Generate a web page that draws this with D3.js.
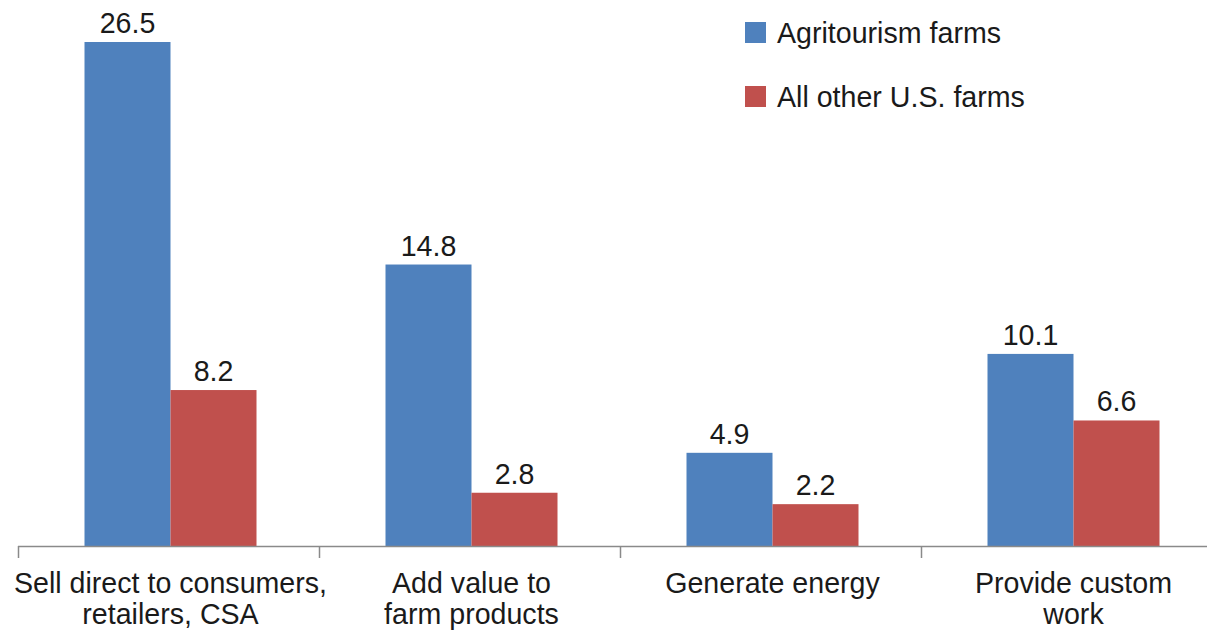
<!DOCTYPE html>
<html>
<head>
<meta charset="utf-8">
<script src="https://cdn.jsdelivr.net/npm/d3@7"></script>
<style>
  html, body { margin: 0; padding: 0; background: #fff; }
  svg { display: block; font-family: "Liberation Sans", Arial, Helvetica, sans-serif; }
</style>
</head>
<body>
<svg id="chart" width="1207" height="631"></svg>
<script>
// Share of farms using each marketing / diversification strategy (percent)
const categories = [
  ["Sell direct to consumers,", "retailers, CSA"],
  ["Add value to", "farm products"],
  ["Generate energy"],
  ["Provide custom", "work"]
];
const seriesNames = ["Agritourism farms", "All other U.S. farms"];
const agritourism = [26.5, 14.8, 4.9, 10.1];
const otherFarms = [8.2, 2.8, 2.2, 6.6];
const colors = ["#4F81BD", "#C0504D"];

const svg = d3.select("#chart");
const baseY = 546;
const fontSize = 28.6;

const keys = categories.map((c, i) => "c" + i);
const x = d3.scaleBand().domain(keys).range([20, 1224]).paddingInner(0).paddingOuter(0);
const y = d3.scaleLinear().domain([0, 26.5]).range([baseY, 42]);
const barW = 86;
const xSub = d3.scaleBand().domain([0, 1]).range([0, barW * 2]);

const rows = keys.map((k, i) => ({ key: k, values: [agritourism[i], otherFarms[i]] }));

const groups = svg.append("g").selectAll("g")
  .data(rows).enter().append("g")
  .attr("transform", d => `translate(${x(d.key) + x.bandwidth() / 2 - barW},0)`);

groups.selectAll("rect")
  .data(d => d.values.map((v, s) => ({ v, s })))
  .enter().append("rect")
  .attr("x", d => xSub(d.s))
  .attr("width", xSub.bandwidth())
  .attr("y", d => y(d.v))
  .attr("height", d => baseY - y(d.v))
  .attr("fill", d => colors[d.s]);

groups.selectAll("text.val")
  .data(d => d.values.map((v, s) => ({ v, s })))
  .enter().append("text")
  .attr("class", "val")
  .attr("x", d => xSub(d.s) + xSub.bandwidth() / 2)
  .attr("y", d => y(d.v) - 9)
  .attr("text-anchor", "middle")
  .attr("font-size", fontSize)
  .attr("fill", "#1a1a1a")
  .text(d => d.v.toFixed(1));

// Category axis with ticks at band boundaries
const axisG = svg.append("g");
axisG.append("line")
  .attr("x1", 18).attr("x2", 1207)
  .attr("y1", baseY + 0.5).attr("y2", baseY + 0.5)
  .attr("stroke", "#8a8a8a").attr("stroke-width", 1.5);
const tickPos = keys.map(k => x(k)).concat([x(keys[keys.length - 1]) + x.bandwidth()]);
axisG.selectAll("line.tick").data(tickPos).enter().append("line")
  .attr("class", "tick")
  .attr("x1", d => d - 1.5).attr("x2", d => d - 1.5)
  .attr("y1", baseY).attr("y2", baseY + 12)
  .attr("stroke", "#8a8a8a").attr("stroke-width", 1.5);

const labels = axisG.selectAll("text.cat").data(rows).enter().append("text")
  .attr("class", "cat")
  .attr("text-anchor", "middle")
  .attr("font-size", fontSize)
  .attr("fill", "#1a1a1a")
  .attr("transform", d => `translate(${x(d.key) + x.bandwidth() / 2},593)`);
labels.selectAll("tspan")
  .data((d, i) => categories[i])
  .enter().append("tspan")
  .attr("x", 0)
  .attr("dy", (d, i) => i === 0 ? 0 : 31)
  .text(d => d);

// Legend
const legend = svg.append("g").attr("transform", "translate(745,22)");
const items = legend.selectAll("g").data(seriesNames).enter().append("g")
  .attr("transform", (d, i) => `translate(0,${i * 64})`);
items.append("rect").attr("width", 21).attr("height", 21).attr("fill", (d, i) => colors[i]);
items.append("text")
  .attr("x", 32).attr("y", 21)
  .attr("font-size", fontSize)
  .attr("fill", "#1a1a1a")
  .text(d => d);
</script>
</body>
</html>
